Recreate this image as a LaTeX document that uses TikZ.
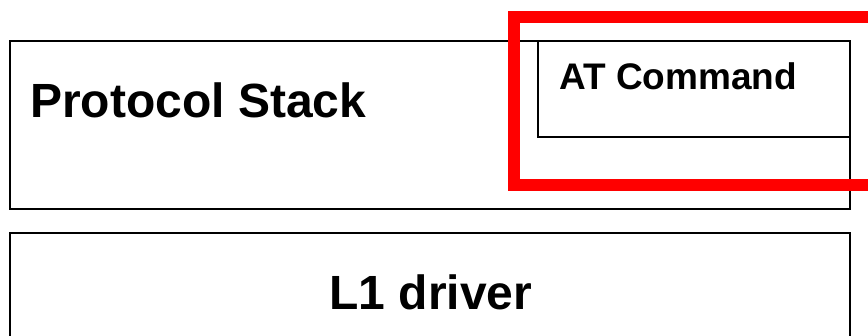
\documentclass[tikz,border=0pt]{standalone}
\usepackage{fontspec}
\setmainfont{Liberation Sans}
\begin{document}
\begin{tikzpicture}[x=1pt,y=-1pt,
    layer/.style ={rectangle, draw, line width=2pt, inner sep=0pt},
    highlight/.style ={rectangle, draw=red, line width=12pt, inner sep=0pt},
    bigtext/.style ={inner sep=0pt, font=\bfseries\fontsize{48}{56}\selectfont},
    smalltext/.style ={inner sep=0pt, font=\bfseries\fontsize{37}{44}\selectfont}]
   \useasboundingbox (0,0) rectangle (868,336);
   \clip (0,0) rectangle (868,336);
   \node[layer, minimum width=840pt, minimum height=168pt] (stack) at (430,125) {};
   \node[layer, minimum width=312pt, minimum height=96pt] (at) at (694,89) {};
   \node[layer, minimum width=840pt, minimum height=112pt] (l1) at (430,289) {};
   \node[bigtext, anchor=base west] (stacktext) at (30,118) {Protocol Stack};
   \node[smalltext, anchor=base west] (attext) at (559,90) {AT Command};
   \node[bigtext, anchor=base] (l1text) at (431,310) {L1 driver};
   \node[highlight, minimum width=366pt, minimum height=168pt] (focus) at (697,101) {};
 \end{tikzpicture}
\end{document}
